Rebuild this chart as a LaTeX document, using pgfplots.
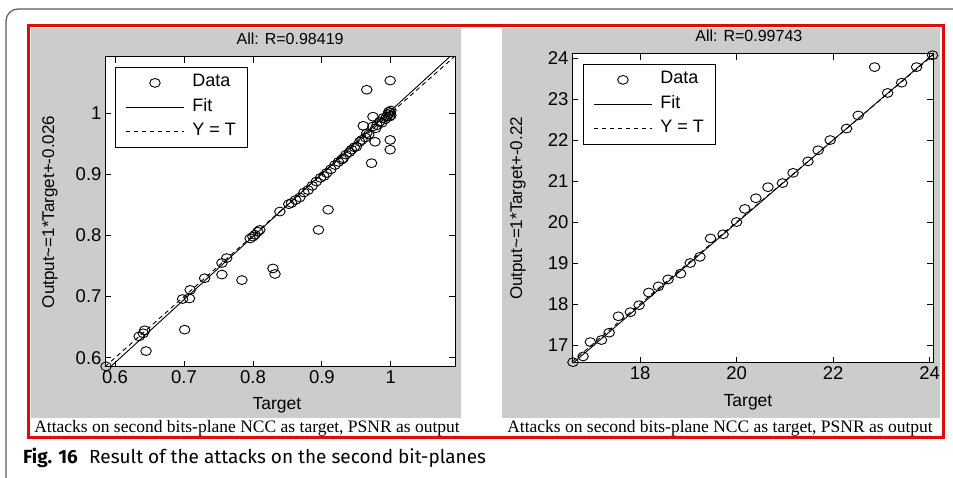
\documentclass[border=0pt]{standalone}
\usepackage{pgfplots}
\pgfplotsset{compat=1.18}
\usepackage{pgfplotstable}
\usepackage{fontspec}
\setmainfont{Liberation Sans}
\newfontfamily\capserif{Liberation Serif}
\newfontfamily\figsans{Fira Sans}
\definecolor{panelgray}{RGB}{204,204,204}
\definecolor{boxred}{RGB}{225,10,10}
\definecolor{framegray}{RGB}{90,90,90}

\pgfplotstableread{
x y
0.587 0.586
0.635 0.635
0.641 0.640
0.643 0.645
0.645 0.611
0.701 0.646
0.698 0.696
0.708 0.697
0.709 0.711
0.730 0.730
0.755 0.736
0.755 0.755
0.762 0.763
0.784 0.727
0.796 0.795
0.800 0.798
0.803 0.801
0.807 0.806
0.810 0.809
0.829 0.746
0.832 0.737
0.839 0.839
0.852 0.851
0.856 0.853
0.862 0.858
0.868 0.862
0.874 0.870
0.880 0.874
0.886 0.881
0.892 0.888
0.895 0.809
0.898 0.894
0.903 0.897
0.907 0.902
0.909 0.842
0.913 0.908
0.919 0.915
0.924 0.920
0.929 0.924
0.931 0.926
0.935 0.932
0.940 0.936
0.943 0.940
0.947 0.944
0.950 0.945
0.955 0.953
0.958 0.956
0.960 0.979
0.963 0.960
0.965 0.967
0.965 1.038
0.968 0.965
0.972 0.918
0.974 0.978
0.974 0.994
0.977 0.953
0.978 0.975
0.980 0.980
0.984 0.986
0.987 0.984
0.989 0.992
0.992 0.990
0.994 0.994
0.996 0.998
0.997 1.002
0.998 0.994
0.999 1.000
1.000 1.004
1.000 0.996
0.999 0.956
0.999 0.940
0.999 1.053
}\leftdata

\pgfplotstableread{
x y
16.61 16.58
16.82 16.72
16.97 17.07
17.20 17.12
17.36 17.30
17.55 17.70
17.80 17.80
17.98 17.97
18.18 18.28
18.38 18.43
18.58 18.60
18.84 18.74
19.04 19.00
19.24 19.15
19.46 19.60
19.72 19.70
20.00 20.00
20.17 20.32
20.40 20.58
20.65 20.85
20.95 20.95
21.17 21.20
21.48 21.48
21.69 21.75
21.94 22.00
22.28 22.28
22.52 22.60
22.86 23.78
23.13 23.15
23.42 23.40
23.73 23.78
24.06 24.07
}\rightdata

\pgfplotsset{
  matlab/.style={
    scale only axis, anchor=south west, clip=false,
    axis line style={line width=1pt},
    tick align=inside, major tick length=6pt,
    every tick/.style={black, line width=0.8pt},
    /pgf/number format/assume math mode=true,
    tick label style={font=\fontsize{18.5}{18.5}\selectfont},
    every axis y label/.style={rotate=90, anchor=center, font=\fontsize{17}{17}\selectfont},
    every axis x label/.style={anchor=center, font=\fontsize{17.5}{17.5}\selectfont},
    every axis title/.style={anchor=center, font=\fontsize{16}{16}\selectfont},
    axis background/.style={fill=white},
    legend cell align=left,
    legend image code/.code={\draw[mark repeat=2,mark phase=2,##1] plot coordinates {(0pt,0pt) (29pt,0pt) (58pt,0pt)};\node[draw=none, fill=none, inner sep=0pt, minimum size=0pt] at (64pt,0pt) {};},
    legend style={anchor=north west, draw=black, line width=1pt, font=\fontsize{18}{18}\selectfont,
      inner xsep=10pt, inner ysep=5.5pt, row sep=4.5pt,
      nodes={inner sep=2pt, text height=12pt, text depth=4pt}},
  },
  datamark/.style={only marks, mark=o, mark size=4.8pt, mark options={line width=0.9pt, xscale=1.1, yscale=0.92}, black},
}

\begin{document}
\begin{tikzpicture}
\useasboundingbox (0pt,0pt) rectangle (953pt,478pt);
\fill[white] (0pt,0pt) rectangle (953pt,478pt);
\draw[framegray, line width=1.2pt, rounded corners=12pt] (6pt,-8pt) -- (6pt,469pt) -- (975pt,469pt);
\fill[panelgray] (31pt,60pt) rectangle (461pt,450pt);
\fill[panelgray] (502pt,60pt) rectangle (940pt,450pt);
\draw[boxred, line width=3pt] (28pt,40pt) rectangle (943pt,452pt);

\begin{axis}[matlab,
  at={(105pt,111pt)}, width=350pt, height=310pt,
  xmin=0.5855, xmax=1.093, ymin=0.585, ymax=1.0915,
  xtick={0.6,0.7,0.8,0.9,1}, ytick={0.6,0.7,0.8,0.9,1},
  title={All: R=0.98419}, title style={at={(axis description cs:0.529,1.058)}},
  xlabel={Target}, xlabel style={at={(axis description cs:0.491,-0.123)}},
  ylabel={Output\textasciitilde=1*Target+-0.026}, ylabel style={at={(axis description cs:-0.157,0.5)}},
  legend style={at={(axis description cs:0.0286,0.968)}},
]
\addplot[datamark] table {\leftdata};
\addlegendentry{Data}
\addplot[black, line width=0.9pt] coordinates {(0.5932,0.585) (1.085,1.0915)};
\addlegendentry{Fit}
\addplot[black, line width=0.9pt, dash pattern=on 4.5pt off 3.5pt] coordinates {(0.5855,0.5855) (1.0915,1.0915)};
\addlegendentry{Y = T}
\end{axis}

\begin{axis}[matlab,
  at={(572pt,115pt)}, width=361pt, height=309pt,
  xmin=16.59, xmax=24.07, ymin=16.56, ymax=24.10,
  xtick={18,20,22,24}, ytick={17,18,19,20,21,22,23,24},
  title={All: R=0.99743}, title style={at={(axis description cs:0.49,1.058)}},
  xlabel={Target}, xlabel style={at={(axis description cs:0.4875,-0.126)}},
  ylabel={Output\textasciitilde=1*Target+-0.22}, ylabel style={at={(axis description cs:-0.15,0.5)}},
  legend style={at={(axis description cs:0.0305,0.968)}},
]
\addplot[datamark] table {\rightdata};
\addlegendentry{Data}
\addplot[black, line width=0.9pt] coordinates {(16.614,16.56) (24.07,24.09)};
\addlegendentry{Fit}
\addplot[black, line width=0.9pt, dash pattern=on 4.5pt off 3.5pt] coordinates {(16.59,16.59) (24.07,24.07)};
\addlegendentry{Y = T}
\end{axis}

\node[font=\capserif\fontsize{17.5}{17.5}\selectfont] at (247pt,50pt) {Attacks on second bits-plane NCC as target, PSNR as output};
\node[font=\capserif\fontsize{17.5}{17.5}\selectfont] at (720pt,50pt) {Attacks on second bits-plane NCC as target, PSNR as output};
\node[anchor=west, inner sep=0pt, font=\figsans\fontsize{19}{19}\selectfont] at (23pt,20pt) {\textbf{Fig. 16}\hspace{0.6em}Result of the attacks on the second bit-planes};
\end{tikzpicture}
\end{document}
